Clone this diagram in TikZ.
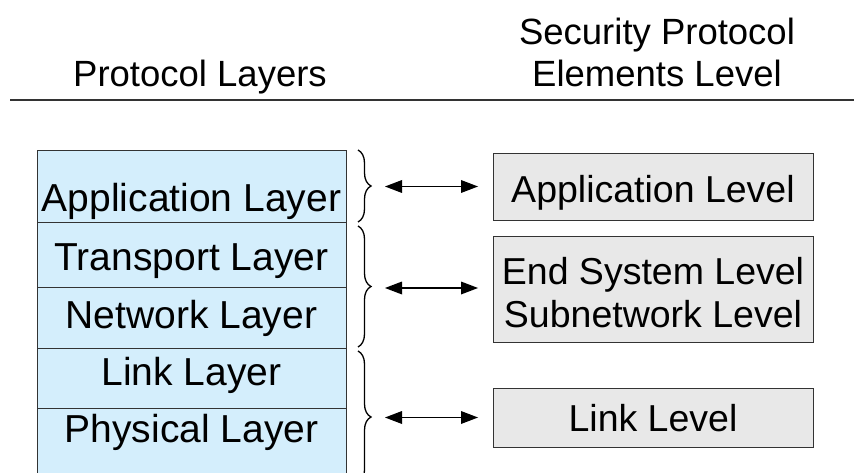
\documentclass[tikz,border=0pt]{standalone}
\usepackage{fontspec}
\setmainfont{Liberation Sans}
\usetikzlibrary{calc,decorations.pathreplacing}
\definecolor{layerblue}{HTML}{D4EEFC}
\definecolor{levelgray}{HTML}{E8E8E8}
\definecolor{edgegray}{HTML}{333333}
\begin{document}
\begin{tikzpicture}[x=1pt,y=-1pt,
  layerbox/.style={draw=edgegray,line width=1.2pt,fill=layerblue,anchor=north west,minimum width=309pt,inner sep=0pt},
  levelbox/.style={draw=edgegray,line width=1.2pt,fill=levelgray,anchor=north west,minimum width=320pt,inner sep=0pt},
  boxtext/.style={anchor=base,inner sep=0pt,font=\fontsize{39}{47}\selectfont},
  lvltext/.style={anchor=base,inner sep=0pt,font=\fontsize{37.5}{45}\selectfont},
  headtext/.style={anchor=base,inner sep=0pt,font=\fontsize{36.5}{44}\selectfont},
  bracestyle/.style={decorate,decoration={brace,amplitude=13pt},line width=1.3pt},
  biline/.style={line width=1.6pt,shorten <=20pt,shorten >=22pt},
  headfill/.style={fill=black}
]
\clip (0,0) rectangle (854,473);
\fill[white] (0,0) rectangle (854,473);

% headers
\node[headtext] (hpl) at (200,87) {Protocol Layers};
\node[headtext] (hsp) at (657,45) {Security Protocol};
\node[headtext] (hel) at (657,87) {Elements Level};
\coordinate (rl) at (10,100);
\coordinate (rr) at (854,100);
\draw[edgegray,line width=2pt] (rl) -- (rr);

% protocol layer stack
\node[layerbox,minimum height=72pt] (lapp) at (37,150) {};
\node[layerbox,minimum height=65pt] (ltra) at (37,222) {};
\node[layerbox,minimum height=61pt] (lnet) at (37,287) {};
\node[layerbox,minimum height=60pt] (llnk) at (37,348) {};
\node[layerbox,minimum height=82pt] (lphy) at (37,408) {};
\node[boxtext] (tapp) at (191.5,211.7) {Application Layer};
\node[boxtext] (ttra) at (191.5,270) {Transport Layer};
\node[boxtext] (tnet) at (191.5,328) {Network Layer};
\node[boxtext] (tlnk) at (191.5,385) {Link Layer};
\node[boxtext] (tphy) at (191.5,442) {Physical Layer};

% security levels
\node[levelbox,minimum height=67pt] (vapp) at (493,153) {};
\node[levelbox,minimum height=106pt] (vend) at (493,236) {};
\node[levelbox,minimum height=59pt] (vlnk) at (493,388) {};
\node[lvltext] (tvapp) at (653,202.7) {Application Level};
\node[lvltext] (tvend) at (653,284) {End System Level};
\node[lvltext] (tvsub) at (653,327) {Subnetwork Level};
\node[lvltext] (tvlnk) at (653,431) {Link Level};

% braces
\coordinate (b1s) at (358,150); \coordinate (b1e) at (358,222);
\coordinate (b2s) at (358,226); \coordinate (b2e) at (358,347);
\coordinate (b3s) at (358,351); \coordinate (b3e) at (358,483);
\draw[bracestyle] (b1s) -- (b1e);
\draw[bracestyle] (b2s) -- (b2e);
\draw[bracestyle] (b3s) -- (b3e);
\coordinate (t1) at (372,186.5);
\coordinate (t2) at (372,288);
\coordinate (t3) at (372,417.5);

% double-headed arrows (line + filled heads)
\foreach \t/\b in {t1/vapp,t2/vend,t3/vlnk}{
  \draw[biline] (\t) -- (\t -| \b.west);
  \fill[headfill] ($(\t)+(13,0)$) -- ++(17,-6.5) -- ++(0,13) -- cycle;
  \fill[headfill] ($(\t -| \b.west)+(-15,0)$) -- ++(-17,-6.5) -- ++(0,13) -- cycle;
}
\end{tikzpicture}
\end{document}
